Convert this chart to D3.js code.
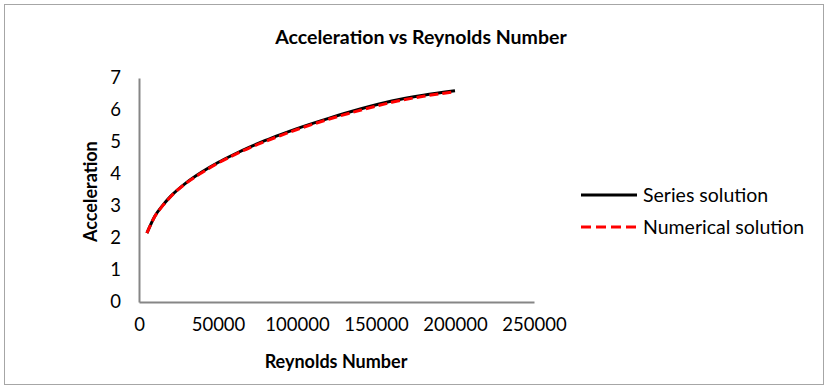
<!DOCTYPE html>
<html>
<head>
<meta charset="utf-8">
<script src="https://cdn.jsdelivr.net/npm/d3@7"></script>
<style>
  body { margin: 0; background: #fff; }
  svg { font-family: Lato, "Open Sans", sans-serif; }
</style>
</head>
<body>
<div class="graph"></div>
<script>
// Reynolds number samples and the two solutions
const reynolds = [5000, 10000, 15000, 20000, 30000, 40000, 50000, 60000, 70000, 80000, 90000, 100000, 120000, 140000, 160000, 180000, 200000];
const seriesSolution = [2.15, 2.68, 3.02, 3.30, 3.73, 4.07, 4.36, 4.61, 4.84, 5.05, 5.24, 5.42, 5.74, 6.03, 6.28, 6.46, 6.60];
const numericalSolution = [2.15, 2.67, 3.01, 3.29, 3.72, 4.05, 4.34, 4.59, 4.82, 5.02, 5.21, 5.39, 5.71, 5.99, 6.24, 6.43, 6.57];
const xTicks = [0, 50000, 100000, 150000, 200000, 250000];
const yTicks = [0, 1, 2, 3, 4, 5, 6, 7];
const seriesNames = ["Series solution", "Numerical solution"];

const width = 828, height = 387;
const margin = {top: 78, bottom: 85, left: 139, right: 294};

const svg = d3.select(".graph").append("svg").attr("width", width).attr("height", height);

// outer frame
svg.append("rect")
  .attr("x", 4.5).attr("y", 4.5)
  .attr("width", 819).attr("height", 380)
  .attr("fill", "#fff").attr("stroke", "#a6a6a6").attr("stroke-width", 1);

const x = d3.scaleLinear().domain([0, 250000]).range([margin.left, width - margin.right]);
const y = d3.scaleLinear().domain([0, 7]).range([height - margin.bottom, margin.top]);

// axes
const xAxis = d3.axisBottom(x).tickValues(xTicks).tickSize(0).tickPadding(15).tickFormat(d3.format("d"));
const gx = svg.append("g").attr("transform", `translate(0, ${y(0)})`).call(xAxis);
const yAxis = d3.axisLeft(y).tickValues(yTicks).tickSize(0).tickPadding(18).tickFormat(d3.format("d"));
const gy = svg.append("g").attr("transform", `translate(${x(0)}, 0)`).call(yAxis);

[gx, gy].forEach(g => {
  g.select(".domain").attr("stroke", "#868686").attr("stroke-width", 2);
  g.selectAll("text").attr("font-size", 18.5).attr("fill", "#000").attr("font-family", "Lato, sans-serif");
});
gx.selectAll("text").attr("dy", "0.75em");

// lines
const data = [
  {name: seriesNames[0], values: seriesSolution, color: "#000", dash: null},
  {name: seriesNames[1], values: numericalSolution, color: "#ff0000", dash: "9,4"}
];
const line = d3.line()
  .x((d, i) => x(reynolds[i]))
  .y(d => y(d))
  .curve(d3.curveMonotoneX);

svg.append("g").selectAll("path")
  .data(data)
  .join("path")
  .attr("d", d => line(d.values))
  .attr("fill", "none")
  .attr("stroke", d => d.color)
  .attr("stroke-width", 3)
  .attr("stroke-dasharray", d => d.dash);

// titles
svg.append("text")
  .attr("x", 421).attr("y", 44)
  .attr("text-anchor", "middle")
  .attr("font-size", 19.5).attr("font-weight", "bold")
  .text("Acceleration vs Reynolds Number");

svg.append("text")
  .attr("x", 336).attr("y", 368)
  .attr("text-anchor", "middle")
  .attr("font-size", 18).attr("font-weight", "bold")
  .text("Reynolds Number");

svg.append("text")
  .attr("transform", `translate(97, ${y(3.45)}) rotate(-90)`)
  .attr("text-anchor", "middle")
  .attr("font-size", 18).attr("font-weight", "bold")
  .text("Acceleration");

// legend
const legend = svg.append("g").attr("transform", "translate(581, 195)");
legend.selectAll("line")
  .data(data)
  .join("line")
  .attr("x1", 0).attr("x2", 56)
  .attr("y1", (d, i) => i * 32).attr("y2", (d, i) => i * 32)
  .attr("stroke", d => d.color)
  .attr("stroke-width", 3)
  .attr("stroke-dasharray", d => d.dash ? "10,5" : null);
legend.selectAll("text")
  .data(data)
  .join("text")
  .attr("x", 62)
  .attr("y", (d, i) => i * 32 + 7)
  .attr("font-size", 19.5)
  .text(d => d.name);
</script>
</body>
</html>
